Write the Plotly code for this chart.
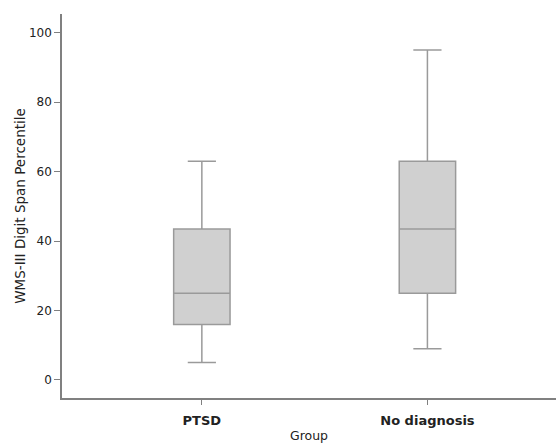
import plotly.graph_objects as go

groups = ["PTSD", "No diagnosis"]
lower_whisker = [5, 9]
q1_values = [16, 25]
medians = [25, 43.5]
q3_values = [43.5, 63]
upper_whisker = [63, 95]
y_ticks = [0, 20, 40, 60, 80, 100]

FONT = "DejaVu Sans, Liberation Sans, Arial, sans-serif"

fig = go.Figure()
fig.add_trace(go.Box(
    x=groups,
    q1=q1_values,
    median=medians,
    q3=q3_values,
    lowerfence=lower_whisker,
    upperfence=upper_whisker,
    width=0.25,
    whiskerwidth=0.5,
    fillcolor="#d0d0d0",
    line=dict(color="#9a9a9a", width=1.5),
    boxpoints=False,
    hoverinfo="skip",
    showlegend=False,
))

fig.update_layout(
    width=556, height=443,
    margin=dict(l=62, r=0, t=14, b=45),
    paper_bgcolor="white",
    plot_bgcolor="white",
    font=dict(family=FONT, color="#222222"),
    xaxis=dict(
        range=[-0.62, 1.57],
        showline=True, linecolor="#808080", linewidth=1.5,
        ticks="outside", ticklen=5, tickcolor="#808080",
        ticklabelstandoff=5,
        tickfont=dict(size=13, family=FONT, weight="bold"),
        title=dict(text="Group", font=dict(size=12.5), standoff=5),
        showgrid=False, zeroline=False,
    ),
    yaxis=dict(
        range=[-5.2, 105.4],
        tickvals=y_ticks,
        showline=True, linecolor="#808080", linewidth=1.5,
        ticks="outside", ticklen=6, tickcolor="#808080",
        tickfont=dict(size=12),
        title=dict(text="WMS-III Digit Span Percentile", font=dict(size=13.5), standoff=0),
        showgrid=False, zeroline=False,
    ),
)

fig.write_html("out.html", config={"displayModeBar": False},
               post_script="document.body.style.margin='0px';")
